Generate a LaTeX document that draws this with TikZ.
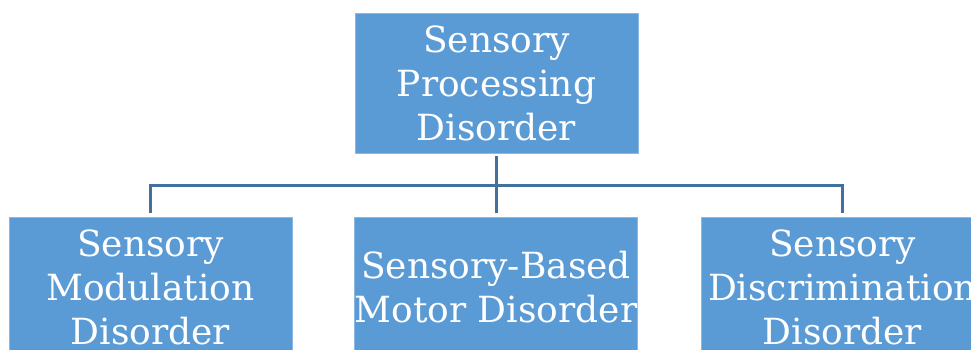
\documentclass[tikz,border=0pt]{standalone}
\usepackage{fontspec}
\setmainfont{DejaVu Serif}
\definecolor{boxblue}{HTML}{5B9BD5}
\definecolor{lineblue}{HTML}{41719C}
\begin{document}
\begin{tikzpicture}[x=1pt,y=-1pt,
  catbox/.style={fill=boxblue, draw=boxblue!70!white, line width=0.8pt, minimum width=283pt, minimum height=140pt,
    inner sep=0pt, text=white, align=center, font=\fontsize{36}{44}\selectfont},
  link/.style={draw=lineblue, line width=3pt}]
\useasboundingbox (0,0) rectangle (971,349);
\clip (0,0) rectangle (971,349);
\fill[white] (0,0) rectangle (971,349);
\node[catbox] (top) at (496.5,83) {Sensory\\Processing\\Disorder};
\node[catbox] (left) at (150.5,287) {Sensory\\Modulation\\Disorder};
\node[catbox] (mid) at (496,287) {Sensory-Based\\Motor Disorder};
\node[catbox] (right) at (842.5,287) {Sensory\\Discrimination\\Disorder};
\coordinate (busL) at (150.5,185);
\coordinate (busR) at (842.5,185);
\draw[link, shorten <=3pt] (top.south) -- (top.south |- busL);
\draw[link, shorten <=3.5pt, shorten >=3.5pt] (left.north) -- (busL) -- (busR) -- (right.north);
\draw[link, shorten <=3.5pt] (mid.north) -- (mid.north |- busL);
\end{tikzpicture}
\end{document}
